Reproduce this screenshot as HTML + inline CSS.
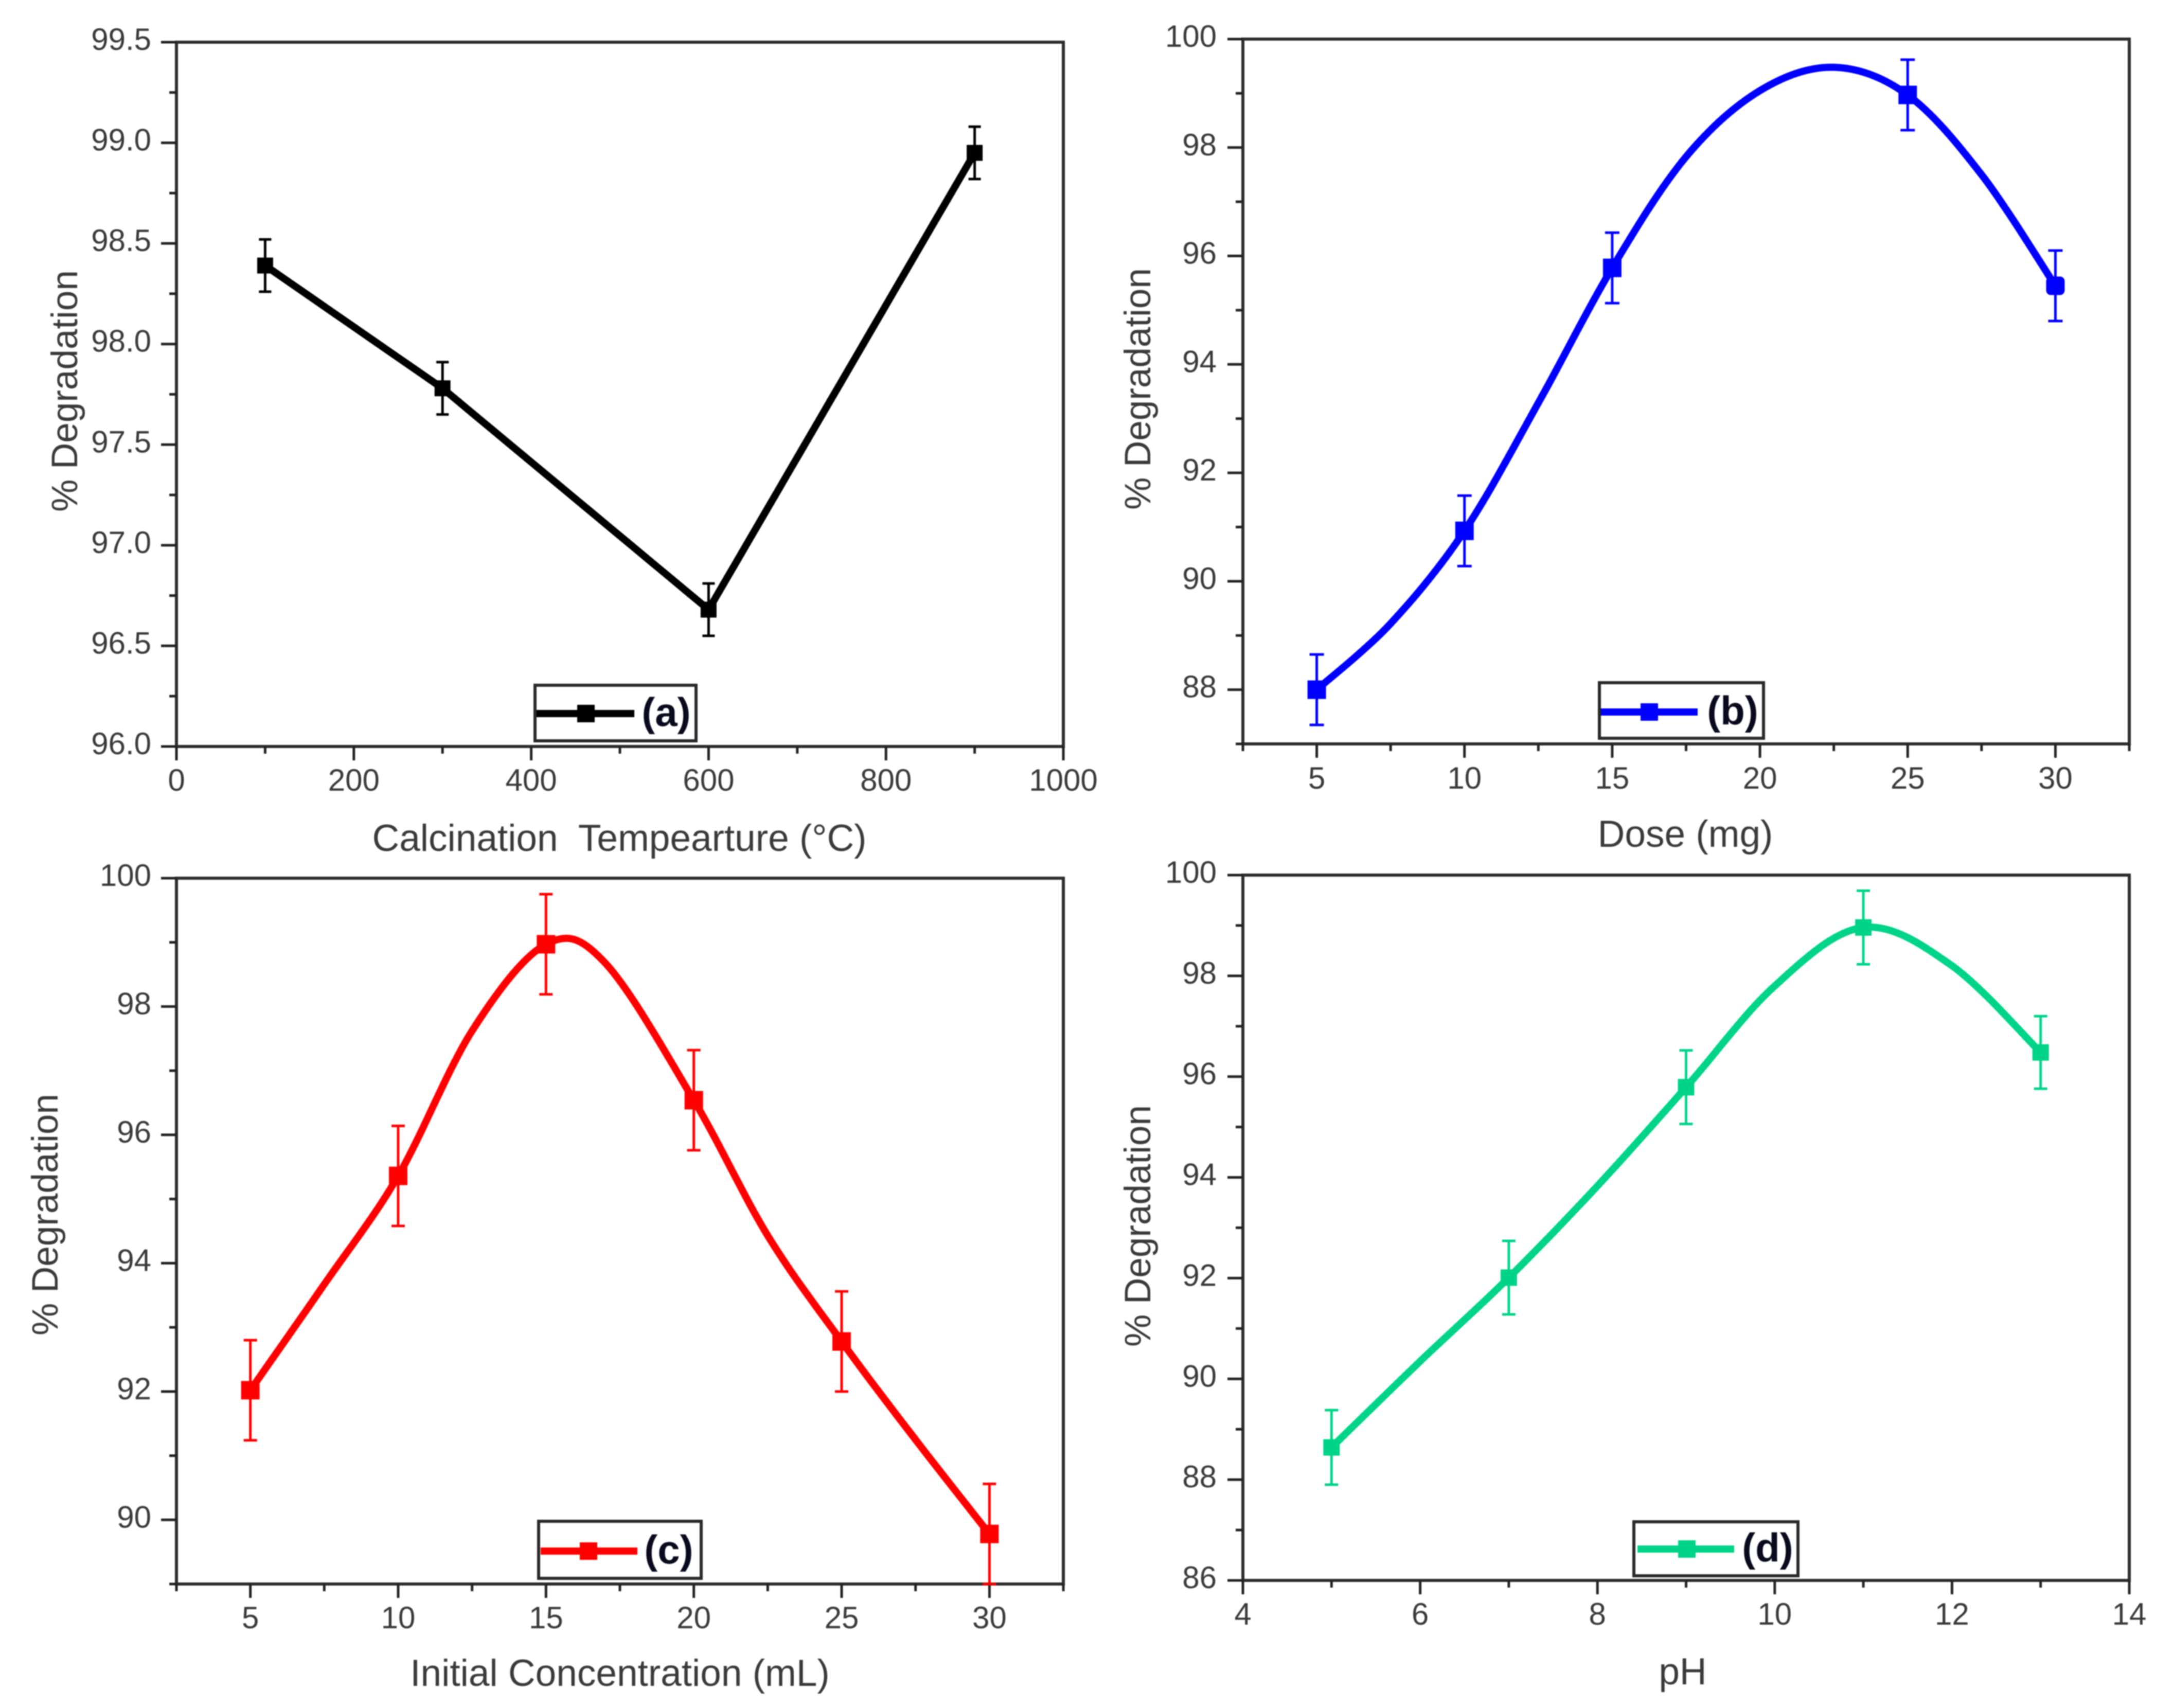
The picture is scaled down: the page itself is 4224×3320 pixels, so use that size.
<!DOCTYPE html>
<html lang="en">
<head>
<meta charset="utf-8">
<title>% Degradation charts</title>
<style>
html,body{margin:0;padding:0;background:#fff;width:4224px;height:3320px;overflow:hidden}
svg{display:block;filter:blur(1px)}
text{font-family:"Liberation Sans",sans-serif;fill:#3a3a3a}
</style>
</head>
<body>
<svg id="figure" xmlns="http://www.w3.org/2000/svg" width="4224" height="3320" viewBox="0 0 4224 3320"></svg>
<script>
// Panel (a) — calcination temperature
const tempX = [100, 300, 600, 900];
const tempY = [98.39, 97.78, 96.68, 98.95];
const tempErr = [0.13, 0.13, 0.13, 0.13];
const tempBetweenX = [];
const tempBetweenY = [];
const tempXTicks = [0, 200, 400, 600, 800, 1000];
const tempXTickLabels = ['0', '200', '400', '600', '800', '1000'];
const tempXMinor = [100, 300, 500, 700, 900];
const tempYTicks = [96, 96.5, 97, 97.5, 98, 98.5, 99, 99.5];
const tempYTickLabels = ['96.0', '96.5', '97.0', '97.5', '98.0', '98.5', '99.0', '99.5'];
const tempYMinor = [96.25, 96.75, 97.25, 97.75, 98.25, 98.75, 99.25];

// Panel (b) — dose
const doseX = [5, 10, 15, 25, 30];
const doseY = [88.0, 90.93, 95.78, 98.97, 95.45];
const doseErr = [0.65, 0.65, 0.65, 0.65, 0.65];
const doseBetweenX = [7.5, 12.5, 17.5, 20, 22.5, 27.5];
const doseBetweenY = [89.22, 93.29, 97.83, 99.05, 99.48, 97.5];
const doseXTicks = [5, 10, 15, 20, 25, 30];
const doseXTickLabels = ['5', '10', '15', '20', '25', '30'];
const doseXMinor = [2.5, 7.5, 12.5, 17.5, 22.5, 27.5, 32.5];
const doseYTicks = [88, 90, 92, 94, 96, 98, 100];
const doseYTickLabels = ['88', '90', '92', '94', '96', '98', '100'];
const doseYMinor = [87, 89, 91, 93, 95, 97, 99];

// Panel (c) — initial concentration
const concX = [5, 10, 15, 20, 25, 30];
const concY = [92.02, 95.36, 98.97, 96.54, 92.78, 89.78];
const concErr = [0.78, 0.78, 0.78, 0.78, 0.78, 0.78];
const concBetweenX = [7.5, 12.5, 17, 22.5, 27.5];
const concBetweenY = [93.67, 97.62, 98.68, 94.43, 91.25];
const concXTicks = [5, 10, 15, 20, 25, 30];
const concXTickLabels = ['5', '10', '15', '20', '25', '30'];
const concXMinor = [2.5, 7.5, 12.5, 17.5, 22.5, 27.5, 32.5];
const concYTicks = [90, 92, 94, 96, 98, 100];
const concYTickLabels = ['90', '92', '94', '96', '98', '100'];
const concYMinor = [89, 91, 93, 95, 97, 99];

// Panel (d) — pH
const phX = [5, 7, 9, 11, 13];
const phY = [88.64, 92.01, 95.79, 98.96, 96.48];
const phErr = [0.74, 0.73, 0.73, 0.73, 0.72];
const phBetweenX = [6, 8, 10, 12];
const phBetweenY = [90.35, 93.83, 97.8, 98.2];
const phXTicks = [4, 6, 8, 10, 12, 14];
const phXTickLabels = ['4', '6', '8', '10', '12', '14'];
const phXMinor = [5, 7, 9, 11, 13];
const phYTicks = [86, 88, 90, 92, 94, 96, 98, 100];
const phYTickLabels = ['86', '88', '90', '92', '94', '96', '98', '100'];
const phYMinor = [87, 89, 91, 93, 95, 97, 99];

const svg = document.getElementById('figure');
const NS = 'http://www.w3.org/2000/svg';

function mk(tag, attrs, parent, text) {
  const el = document.createElementNS(NS, tag);
  for (const k in attrs) el.setAttribute(k, attrs[k]);
  if (text !== undefined) el.textContent = text;
  parent.appendChild(el);
  return el;
}

// Catmull-Rom through the knots, as cubic Bezier segments
function smoothPath(pts) {
  let d = 'M' + pts[0][0] + ' ' + pts[0][1];
  for (let i = 0; i < pts.length - 1; i++) {
    const p0 = pts[Math.max(i - 1, 0)], p1 = pts[i], p2 = pts[i + 1], p3 = pts[Math.min(i + 2, pts.length - 1)];
    const c1x = p1[0] + (p2[0] - p0[0]) / 6, c1y = p1[1] + (p2[1] - p0[1]) / 6;
    const c2x = p2[0] - (p3[0] - p1[0]) / 6, c2y = p2[1] - (p3[1] - p1[1]) / 6;
    d += ' C' + c1x + ' ' + c1y + ' ' + c2x + ' ' + c2y + ' ' + p2[0] + ' ' + p2[1];
  }
  return d;
}

function drawPanel(p) {
  const g = mk('g', {}, svg);
  
  

  const xScale = v => p.left + (v - p.xMin) / (p.xMax - p.xMin) * (p.right - p.left);
  const yScale = v => p.bottom - (v - p.yMin) / (p.yMax - p.yMin) * (p.bottom - p.top);

  // Frame
  const frame = mk('rect', {x: p.left, y: p.top, width: p.right - p.left, height: p.bottom - p.top, fill: 'none', stroke: '#2e2e2e', 'stroke-width': 6}, g);
  
  

  // X ticks
  p.xTicks.forEach((v, i) => {
    const t = mk('line', {x1: xScale(v), x2: xScale(v), y1: p.bottom, y2: p.bottom + 27, stroke: '#222', 'stroke-width': 5}, g);
    
    
    const l = mk('text', {x: xScale(v), y: p.xLabelY, 'font-size': 60, 'text-anchor': 'middle'}, g, p.xTickLabels[i]);
    
    
  });
  p.xMinor.forEach(v => {
    const t = mk('line', {x1: xScale(v), x2: xScale(v), y1: p.bottom, y2: p.bottom + 14, stroke: '#222', 'stroke-width': 5}, g);
    
    
  });

  // Y ticks
  p.yTicks.forEach((v, i) => {
    const t = mk('line', {x1: p.left - 30, x2: p.left, y1: yScale(v), y2: yScale(v), stroke: '#222', 'stroke-width': 5}, g);
    
    
    const l = mk('text', {x: p.yLabelX, y: yScale(v) + 15, 'font-size': 60, 'text-anchor': 'end'}, g, p.yTickLabels[i]);
    
    
  });
  p.yMinor.forEach(v => {
    const t = mk('line', {x1: p.left - 14, x2: p.left, y1: yScale(v), y2: yScale(v), stroke: '#222', 'stroke-width': 5}, g);
    
    
  });

  // Axis titles
  const xt = mk('text', {x: p.xTitleX, y: p.xTitleY, 'font-size': 73, 'text-anchor': 'middle', 'xml:space': 'preserve'}, g, p.xTitle);
  xt.setAttribute('style', 'white-space:pre');
  
  
  const yt = mk('text', {x: 0, y: 0, 'font-size': 71, 'text-anchor': 'middle', transform: 'translate(' + p.yTitleX + ' ' + p.yTitleY + ') rotate(-90)'}, g, '% Degradation');
  
  

  // Series line: markers' values plus curve readings between them
  const knots = p.xs.map((v, i) => [v, p.ys[i]])
    .concat(p.betweenX.map((v, i) => [v, p.betweenY[i]]))
    .sort((a, b) => a[0] - b[0])
    .map(k => [xScale(k[0]), yScale(k[1])]);
  const d = p.smooth ? smoothPath(knots) : 'M' + knots.map(k => k[0] + ' ' + k[1]).join(' L');
  const line = mk('path', {d: d, fill: 'none', stroke: p.color, 'stroke-width': 14, 'stroke-linejoin': 'round', 'stroke-linecap': 'round'}, g);
  
  

  // Error bars and markers
  p.xs.forEach((v, i) => {
    const cx = xScale(v), top = yScale(p.ys[i] + p.errs[i]), bot = yScale(p.ys[i] - p.errs[i]);
    const bar = mk('path', {d: 'M' + cx + ' ' + top + ' V' + bot + ' M' + (cx - p.cap) + ' ' + top + ' H' + (cx + p.cap) + ' M' + (cx - p.cap) + ' ' + bot + ' H' + (cx + p.cap), fill: 'none', stroke: p.color, 'stroke-width': 5}, g);
    
    
    const s = p.marker;
    const m = mk('rect', {x: cx - s / 2, y: yScale(p.ys[i]) - s / 2, width: s, height: s, fill: p.color}, g);
    if (p.id === 'b' && i === p.xs.length - 1) m.setAttribute('rx', 9);
    
    
  });

  // Legend
  const L = p.legend;
  const lg = mk('g', {}, g);
  
  
  const box = mk('rect', {x: L.x0, y: L.y0, width: L.x1 - L.x0, height: L.y1 - L.y0, fill: '#fff', stroke: '#2a2a2a', 'stroke-width': 6}, lg);
  
  
  const ll = mk('line', {x1: L.lineX0, x2: L.lineX1, y1: L.lineY, y2: L.lineY, stroke: p.color, 'stroke-width': 14}, lg);
  
  
  const lm = mk('rect', {x: L.markX - 17, y: L.lineY - 17, width: 34, height: 34, fill: p.color}, lg);
  
  
  const lt = mk('text', {x: L.textX, y: L.textY, 'font-size': 78, 'font-weight': 'bold', 'text-anchor': 'middle', style: 'fill:#0a0a1e'}, lg, '(' + p.id + ')');
  
  
}

drawPanel({
  id: 'a', left: 343, right: 2067, top: 82, bottom: 1451,
  xMin: 0, xMax: 1000, yMin: 96, yMax: 99.5,
  xs: tempX, ys: tempY, errs: tempErr, betweenX: tempBetweenX, betweenY: tempBetweenY, smooth: false,
  xTicks: tempXTicks, xTickLabels: tempXTickLabels, xMinor: tempXMinor,
  yTicks: tempYTicks, yTickLabels: tempYTickLabels, yMinor: tempYMinor,
  color: '#000000', marker: 31, cap: 12,
  xTitle: 'Calcination  Tempearture (°C)', xTitleX: 1204, xTitleY: 1654, xLabelY: 1537, yLabelX: 294,
  yTitleX: 150, yTitleY: 760,
  legend: {x0: 1040, x1: 1353, y0: 1332, y1: 1440, lineX0: 1043, lineX1: 1233, lineY: 1387, markX: 1139, textX: 1295, textY: 1411}
});

drawPanel({
  id: 'b', left: 2416, right: 4139, top: 76, bottom: 1446,
  xMin: 2.5, xMax: 32.5, yMin: 87, yMax: 100,
  xs: doseX, ys: doseY, errs: doseErr, betweenX: doseBetweenX, betweenY: doseBetweenY, smooth: true,
  xTicks: doseXTicks, xTickLabels: doseXTickLabels, xMinor: doseXMinor,
  yTicks: doseYTicks, yTickLabels: doseYTickLabels, yMinor: doseYMinor,
  color: '#0000ff', marker: 36, cap: 14,
  xTitle: 'Dose (mg)', xTitleX: 3276, xTitleY: 1646, xLabelY: 1533, yLabelX: 2365,
  yTitleX: 2236, yTitleY: 756,
  legend: {x0: 3109, x1: 3428, y0: 1327, y1: 1435, lineX0: 3112, lineX1: 3300, lineY: 1384, markX: 3206, textX: 3368, textY: 1408}
});

drawPanel({
  id: 'c', left: 343, right: 2067, top: 1707, bottom: 3079,
  xMin: 2.5, xMax: 32.5, yMin: 89, yMax: 100,
  xs: concX, ys: concY, errs: concErr, betweenX: concBetweenX, betweenY: concBetweenY, smooth: true,
  xTicks: concXTicks, xTickLabels: concXTickLabels, xMinor: concXMinor,
  yTicks: concYTicks, yTickLabels: concYTickLabels, yMinor: concYMinor,
  color: '#ff0000', marker: 36, cap: 13,
  xTitle: 'Initial Concentration (mL)', xTitleX: 1205, xTitleY: 3277, xLabelY: 3165, yLabelX: 294,
  yTitleX: 112, yTitleY: 2361,
  legend: {x0: 1047, x1: 1363, y0: 2957, y1: 3068, lineX0: 1051, lineX1: 1239, lineY: 3015, markX: 1144, textX: 1300, textY: 3039}
});

drawPanel({
  id: 'd', left: 2416, right: 4139, top: 1701, bottom: 3072,
  xMin: 4, xMax: 14, yMin: 86, yMax: 100,
  xs: phX, ys: phY, errs: phErr, betweenX: phBetweenX, betweenY: phBetweenY, smooth: true,
  xTicks: phXTicks, xTickLabels: phXTickLabels, xMinor: phXMinor,
  yTicks: phYTicks, yTickLabels: phYTickLabels, yMinor: phYMinor,
  color: '#00d488', marker: 32, cap: 13,
  xTitle: 'pH', xTitleX: 3271, xTitleY: 3274, xLabelY: 3158, yLabelX: 2365,
  yTitleX: 2236, yTitleY: 2383,
  legend: {x0: 3176, x1: 3495, y0: 2958, y1: 3063, lineX0: 3183, lineX1: 3371, lineY: 3011, markX: 3279, textX: 3436, textY: 3035}
});
</script>
</body>
</html>
